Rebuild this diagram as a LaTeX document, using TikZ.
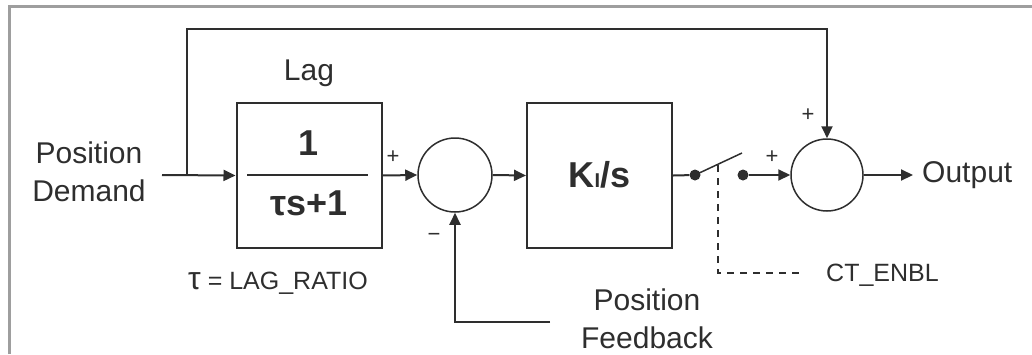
\documentclass[tikz,border=0pt]{standalone}
\usepackage{fontspec}
\setmainfont{Liberation Sans}
\usetikzlibrary{arrows.meta}
\definecolor{ink}{gray}{0.18}
\definecolor{frame}{gray}{0.62}
\begin{document}
\begin{tikzpicture}[x=1pt,y=-1pt,
  ink/.style={draw=ink,line width=2pt},
  blk/.style={ink,rectangle,minimum width=145pt,minimum height=145pt,inner sep=0pt},
  sumc/.style={draw=ink,line width=1.5pt,circle,inner sep=0pt},
  arr/.style={ink,-{Triangle[length=12pt,width=11pt]}},
  lbl/.style={text=ink,font=\fontsize{30}{38}\selectfont,inner sep=0pt},
  small/.style={text=ink,font=\fontsize{25}{30}\selectfont,inner sep=0pt},
  sgn/.style={text=ink,font=\fontsize{22}{24}\selectfont,inner sep=0pt},
  dotn/.style={circle,fill=ink,inner sep=0pt,minimum size=11pt},
  dashline/.style={draw=ink,line width=1.5pt,dash pattern=on 7pt off 6pt}]
\useasboundingbox (0,0) rectangle (1032,354);
% frame
\draw[frame,line width=3pt] (9.5,354) -- (9.5,6.5) -- (1032,6.5);
% blocks
\node[blk] (lag) at (309,175.5) {};
\node[blk] (ki) at (599.5,175.5) {};
\node[sumc,minimum size=74pt] (sum1) at (455,175) {};
\node[sumc,minimum size=72pt] (sum2) at (827,175) {};
\node[dotn] (d1) at (695,175) {};
\node[dotn] (d2) at (743,175) {};
% lag contents
\node[text=ink,font=\fontsize{36}{40}\selectfont\bfseries,inner sep=0pt] (one) at (309,143) {1};
\node[text=ink,font=\fontsize{36}{40}\selectfont\bfseries,inner sep=0pt] (den) at (309,203) {τs+1};
\coordinate (fl) at (247,175);
\coordinate (fr) at (368,175);
\draw[ink] (fl) -- (fr);
\node[text=ink,font=\fontsize{36}{40}\selectfont\bfseries,inner sep=0pt] (kit) at (599.5,175) {K\raisebox{0pt}{\fontsize{20}{20}\selectfont I}/s};
% labels
\node[lbl] (lagl) at (309,73) {Lag};
\node[lbl,align=center] (pd) at (89,172) {Position\\Demand};
\node[lbl,align=center] (pf) at (647,319) {Position\\Feedback};
\node[lbl,anchor=west] (outl) at (922,175) {Output};
\node[small] (tau) at (278,283) {{\fontsize{32}{32}\selectfont τ} = LAG\_RATIO};
\node[small,anchor=west] (ct) at (826,275) {CT\_ENBL};
\node[sgn] (p1) at (393,157) {+};
\node[sgn] (m1) at (434,237) {−};
\node[sgn] (p2) at (772,157) {+};
\node[sgn] (p3) at (808,115) {+};
% coordinates
\coordinate (in) at (162,175);
\coordinate (br) at (187,175);
\coordinate (top) at (187,29);
\coordinate (fb) at (550,322);
\coordinate (blade) at (742,153);
\coordinate (ds) at (718,165);
\coordinate (dc) at (718,273);
\coordinate (de) at (805,273);
\coordinate (out) at (913,175);
% connectors
\draw[arr] (in) -- (lag.west);
\draw[arr] (br) -- (top) -| (sum2.north);
\draw[arr] (lag.east) -- (sum1.west);
\draw[arr] (fb) -| (sum1.south);
\draw[arr] (sum1.east) -- (ki.west);
\draw[ink] (ki.east) -- (d1);
\draw[draw=ink,line width=1.5pt] (d1.center) -- (blade);
\draw[arr] (d2) -- (sum2.west);
\draw[arr] (sum2.east) -- (out);
\draw[dashline] (ds) -- (dc) -- (de);
\end{tikzpicture}
\end{document}
